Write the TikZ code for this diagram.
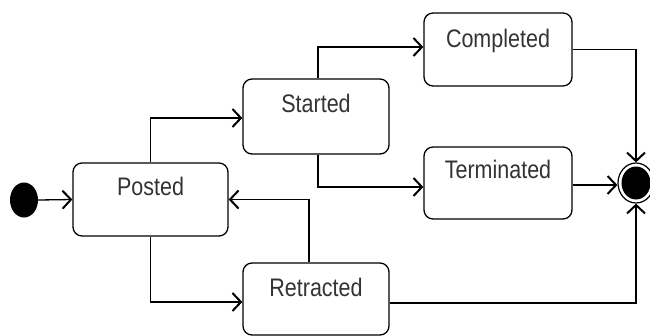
\documentclass[tikz,border=0pt]{standalone}
\usepackage{fontspec}
\setmainfont{Liberation Sans}
\usetikzlibrary{arrows.meta,shapes.geometric}
\begin{document}
\begin{tikzpicture}[x=1pt,y=-1pt,
  state/.style={draw,line width=1.3pt,rounded corners=9pt,inner sep=0pt},
  lbl/.style={anchor=base,inner sep=0pt,text=black!80,
    font=\fontsize{21.5}{26}\selectfont,yscale=1.18},
  flow/.style={line width=1.3pt,-{Straight Barb[length=8.5pt,width=18pt,line width=2pt]}}]
\useasboundingbox (0,0) rectangle (650,335);
% states
\node[state,minimum width=155pt,minimum height=73pt] (posted) at (150.5,199.5) {};
\node[state,minimum width=146pt,minimum height=75pt] (started) at (316,116.5) {};
\node[state,minimum width=148pt,minimum height=73pt] (completed) at (498,49.5) {};
\node[state,minimum width=148pt,minimum height=72pt] (terminated) at (498,183) {};
\node[state,minimum width=146pt,minimum height=72pt] (retracted) at (316,299) {};
% state names, set on a common baseline below each box top
\node[lbl] (tposted) at ([yshift=-33pt]posted.north) {Posted};
\node[lbl] (tstarted) at ([yshift=-34pt]started.north) {Started};
\node[lbl] (tcompleted) at ([yshift=-35pt]completed.north) {Completed};
\node[lbl] (tterminated) at ([yshift=-32pt]terminated.north) {Terminated};
\node[lbl] (tretracted) at ([yshift=-34pt]retracted.north) {Retracted};
% initial and final pseudo-states
\node[ellipse,fill=black,inner sep=0pt,minimum width=28pt,minimum height=35pt] (init) at (24,200) {};
\node[ellipse,draw,line width=1.2pt,minimum width=36pt,minimum height=40pt,inner sep=0pt] (final) at (636,183) {};
\fill (final.center) ellipse [x radius=14.5pt,y radius=16.5pt];
% transitions
\draw[flow] (init.east) -- (posted.west);
\draw[flow] (posted.north) |- ([yshift=-1.5pt]started.west);
\draw[flow] ([xshift=2pt]started.north) |- ([yshift=2.5pt]completed.west);
\draw[flow] ([xshift=2pt]started.south) |- ([yshift=-4pt]terminated.west);
\draw[flow] (completed.east) -| (final.north);
\draw[flow] ([yshift=-2pt]terminated.east) -- ([yshift=-2pt]final.west);
\draw[flow] ([xshift=-7pt]retracted.north) |- (posted.east);
\draw[flow] (posted.south) |- ([yshift=-3pt]retracted.west);
\draw[flow] ([yshift=-4pt]retracted.east) -| (final.south);
\end{tikzpicture}
\end{document}
